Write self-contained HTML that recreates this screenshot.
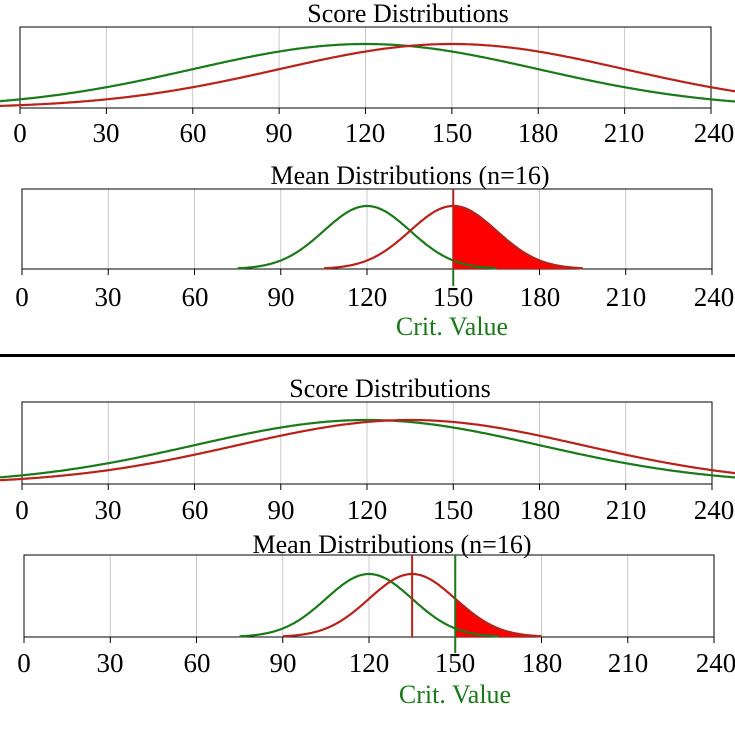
<!DOCTYPE html>
<html><head><meta charset="utf-8"><style>
html,body{margin:0;padding:0;background:#fff;}
svg{display:block;font-family:"Liberation Serif",serif;}
</style></head><body>
<svg id="s" width="735" height="744" xmlns="http://www.w3.org/2000/svg">
<g id="g"></g>
<g font-size="26" text-anchor="middle" fill="#000">
<text x="408" y="22">Score Distributions</text>
<text x="410" y="184">Mean Distributions (n=16)</text>
<text x="390" y="397">Score Distributions</text>
<text x="392" y="553">Mean Distributions (n=16)</text>
</g>
<g font-size="26" text-anchor="middle" fill="#1a7a1a">
<text x="452" y="335">Crit. Value</text>
<text x="455" y="703">Crit. Value</text>
</g>
<g font-size="27" text-anchor="middle" fill="#000" id="ticks">
<text x="20" y="142">0</text><text x="106" y="142">30</text><text x="193" y="142">60</text><text x="279" y="142">90</text><text x="365" y="142">120</text><text x="452" y="142">150</text><text x="538" y="142">180</text><text x="624" y="142">210</text><text x="714" y="142">240</text>
<text x="22" y="306">0</text><text x="108" y="306">30</text><text x="195" y="306">60</text><text x="281" y="306">90</text><text x="367" y="306">120</text><text x="453" y="306">150</text><text x="540" y="306">180</text><text x="626" y="306">210</text><text x="714" y="306">240</text>
<text x="22" y="519">0</text><text x="108" y="519">30</text><text x="195" y="519">60</text><text x="281" y="519">90</text><text x="367" y="519">120</text><text x="453" y="519">150</text><text x="540" y="519">180</text><text x="626" y="519">210</text><text x="714" y="519">240</text>
<text x="24" y="672">0</text><text x="110" y="672">30</text><text x="197" y="672">60</text><text x="283" y="672">90</text><text x="369" y="672">120</text><text x="455" y="672">150</text><text x="542" y="672">180</text><text x="628" y="672">210</text><text x="716" y="672">240</text>
</g>
<rect x="0" y="354" width="735" height="3" fill="#000"/>
</svg>
<script>
var G=document.getElementById('g'),NS='http://www.w3.org/2000/svg';
function el(t,a){var e=document.createElementNS(NS,t);for(var k in a)e.setAttribute(k,a[k]);G.appendChild(e);return e;}
var GR='#1a7a1a',RD='#b8221a';
function panel(x0,x1,y0,y1){
 var sx=(x1-x0)/240;
 for(var i=1;i<8;i++)el('line',{x1:x0+i*30*sx,x2:x0+i*30*sx,y1:y0,y2:y1,stroke:'#c8c8c8','stroke-width':1});
 el('rect',{x:x0,y:y0,width:x1-x0,height:y1-y0,fill:'none',stroke:'#000','stroke-width':1});
 for(var i=0;i<=8;i++)el('line',{x1:x0+i*30*sx,x2:x0+i*30*sx,y1:y1,y2:y1+6,stroke:'#000','stroke-width':1});
 return sx;
}
function curve(x0,sx,base,h,m,sd,a,b,col,fill,fa,fb){
 var pts=[];
 for(var v=a;v<=b+1e-9;v+=0.5){pts.push([x0+v*sx,base-h*Math.exp(-0.5*Math.pow((v-m)/sd,2))]);}
 if(fill){var fp=[];for(var v=fa;v<=fb+1e-9;v+=0.5)fp.push([x0+v*sx,base-h*Math.exp(-0.5*Math.pow((v-m)/sd,2))]);
  var d='M'+(x0+fa*sx)+','+base+' L'+fp.map(p=>p[0].toFixed(1)+','+p[1].toFixed(1)).join(' L')+' L'+(x0+fb*sx)+','+base+'Z';
  el('path',{d:d,fill:'#ff0000'});}
 el('path',{d:'M'+pts.map(p=>p[0].toFixed(1)+','+p[1].toFixed(1)).join(' L'),fill:'none',stroke:col,'stroke-width':2.2});
}
var s=panel(20,711,27,108);
curve(20,s,108,64,120,60,-7,250,GR);
curve(20,s,108,64,150,60,-7,250,RD);
s=panel(22,712,189,269);
curve(22,s,269,63,150,15,150,195,RD,true,150,195);
curve(22,s,269,63,120,15,75,165,GR);
curve(22,s,269,63,150,15,105,195,RD);
el('line',{x1:22+150*s,x2:22+150*s,y1:269,y2:286,stroke:GR,'stroke-width':2});
el('line',{x1:22+150*s,x2:22+150*s,y1:189,y2:269,stroke:RD,'stroke-width':2});
s=panel(22,712,402,484);
curve(22,s,484,64,120,60,-8,250,GR);
curve(22,s,484,64,135,60,-8,250,RD);
s=panel(24,714,555,637);
curve(24,s,637,63,135,15,150,180,RD,true,150,180);
curve(24,s,637,63,120,15,75,165,GR);
curve(24,s,637,63,135,15,90,180,RD);
el('line',{x1:24+135*s,x2:24+135*s,y1:555,y2:637,stroke:RD,'stroke-width':2});
el('line',{x1:24+150*s,x2:24+150*s,y1:555,y2:653,stroke:GR,'stroke-width':2});
</script>
</body></html>
